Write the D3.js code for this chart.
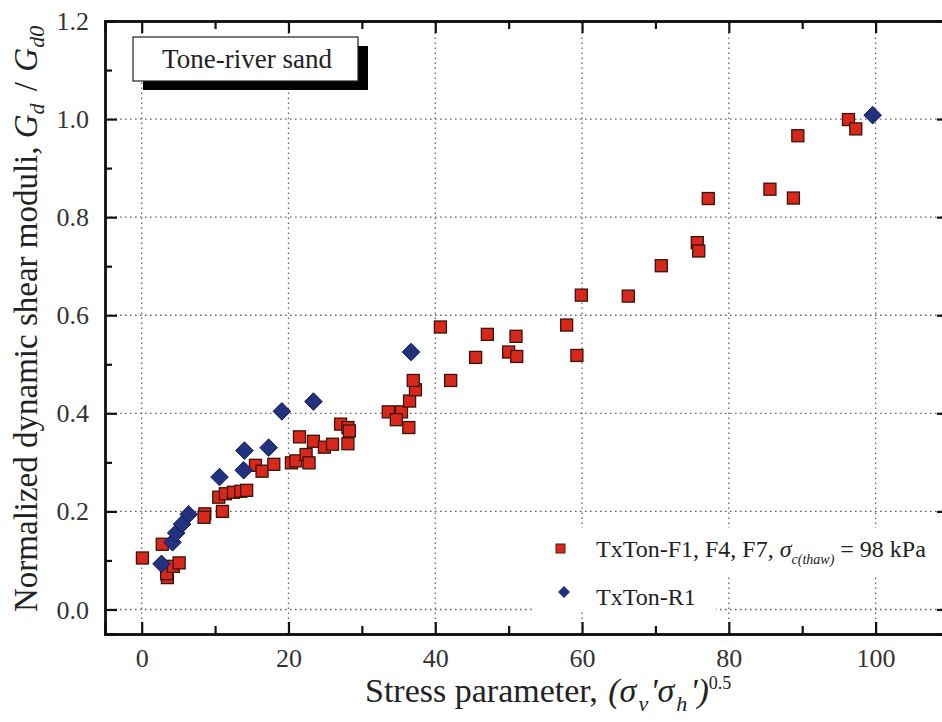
<!DOCTYPE html>
<html><head><meta charset="utf-8">
<script src="https://cdn.jsdelivr.net/npm/d3@7"></script>
<style>
body{margin:0;background:#fff;}
svg{display:block;}
text{font-family:"Liberation Serif","Times New Roman",serif;}
</style></head>
<body><svg id="c" width="942" height="722"></svg>
<script>
// ---- data ----
const redX = [0.1,2.8,3.5,3.4,4.3,5.1,8.6,8.5,10.5,11.0,11.4,12.5,13.5,14.3,15.5,16.4,18.0,20.4,21.0,21.5,22.4,22.8,23.4,24.9,26.0,27.1,28.1,28.3,28.1,33.6,35.4,34.7,36.4,36.5,37.3,37.0,40.7,42.1,45.5,47.1,50.0,51.0,51.1,57.9,59.3,59.9,66.3,70.8,75.7,75.9,77.2,85.6,88.8,89.4,96.3,97.3];
const redY = [0.105,0.133,0.065,0.073,0.088,0.095,0.195,0.188,0.229,0.200,0.236,0.239,0.241,0.243,0.294,0.282,0.296,0.299,0.303,0.352,0.316,0.299,0.343,0.331,0.337,0.378,0.371,0.364,0.338,0.403,0.403,0.387,0.371,0.425,0.448,0.467,0.576,0.467,0.514,0.561,0.525,0.557,0.516,0.580,0.518,0.641,0.639,0.701,0.748,0.731,0.838,0.857,0.839,0.966,0.999,0.980];
const blueX = [2.7,4.2,4.7,5.5,6.4,10.6,13.9,14.0,17.3,19.1,23.4,36.7,99.6];
const blueY = [0.093,0.137,0.156,0.174,0.194,0.270,0.284,0.324,0.330,0.404,0.424,0.525,1.008];
const xMajor = [0,20,40,60,80,100];
const xMinor = [10,30,50,70,90];
const yMajor = [0.0,0.2,0.4,0.6,0.8,1.0,1.2];
const yMinor = [0.1,0.3,0.5,0.7,0.9,1.1];
const seriesNames = ["TxTon-F1, F4, F7, ", "TxTon-R1"];
const boxLabel = "Tone-river sand";

// ---- layout ----
const L = 105, R = 949, T = 21, B = 634;
const x = d3.scaleLinear().domain([-5,110]).range([L,R]);
const y = d3.scaleLinear().domain([-0.05,1.2]).range([B,T]);
const svg = d3.select("#c");

// grid
const grid = svg.append("g").attr("stroke","#666").attr("stroke-width",1.3).attr("stroke-dasharray","1.6,3.4");
grid.selectAll("line.gx").data(xMajor).join("line")
  .attr("x1",d=>x(d)).attr("x2",d=>x(d)).attr("y1",B).attr("y2",T);
grid.selectAll("line.gy").data(yMajor.filter(v=>v<1.2)).join("line")
  .attr("y1",d=>y(d)).attr("y2",d=>y(d)).attr("x1",L).attr("x2",R);

// axes (inward ticks)
function ax(gen, vals, size, tx, ty, labels){
  const g = svg.append("g").attr("transform",`translate(${tx},${ty})`)
    .call(gen.tickValues(vals).tickSize(size).tickPadding(0).tickFormat(labels?null:""));
  g.select(".domain").attr("stroke","#111").attr("stroke-width",2.4);
  g.selectAll(".tick line").attr("stroke","#111").attr("stroke-width",2.2);
  return g;
}
const bx = ax(d3.axisBottom(x), xMajor, -12, 0, B, true);
ax(d3.axisBottom(x), xMinor, -8, 0, B, false);
ax(d3.axisTop(x), xMajor, -12, 0, T, false);
ax(d3.axisTop(x), xMinor, -8, 0, T, false);
const ly = ax(d3.axisLeft(y), yMajor, -12, L, 0, true);
ax(d3.axisLeft(y), yMinor, -7, L, 0, false);
ax(d3.axisRight(y), yMajor, -12, R, 0, false);
ax(d3.axisRight(y), yMinor, -7, R, 0, false);

bx.selectAll(".tick text").attr("y",33).attr("dy",0).attr("font-size",26).attr("fill","#333")
  .attr("font-family","Liberation Serif");
bx.selectAll(".tick text").text(d=>d3.format("d")(d));
ly.selectAll(".tick text").attr("x",-16).attr("dy","0.33em").attr("font-size",26).attr("fill","#333")
  .attr("font-family","Liberation Serif").text(d=>d3.format(".1f")(d));

// box label with shadow
svg.append("rect").attr("x",143).attr("y",46).attr("width",225).attr("height",44).attr("fill","#000");
svg.append("rect").attr("x",133).attr("y",37).attr("width",225).attr("height",44).attr("fill","#fff")
  .attr("stroke","#222").attr("stroke-width",1.2);
svg.append("text").attr("x",247).attr("y",68).attr("text-anchor","middle").attr("font-size",27)
  .attr("fill","#222").text(boxLabel);

// markers
const sq = 12;
svg.append("g").selectAll("rect").data(redX.map((v,i)=>[v,redY[i]])).join("rect")
  .attr("x",d=>x(d[0])-sq/2).attr("y",d=>y(d[1])-sq/2).attr("width",sq).attr("height",sq)
  .attr("fill","#d8281c").attr("stroke","#3a1208").attr("stroke-width",1.3);
const dd = 8.8;
const diamond = (cx,cy,r)=>`M${cx},${cy-r}L${cx+r},${cy}L${cx},${cy+r}L${cx-r},${cy}Z`;
svg.append("g").selectAll("path").data(blueX.map((v,i)=>[v,blueY[i]])).join("path")
  .attr("d",d=>diamond(x(d[0]),y(d[1]),dd))
  .attr("fill","#22327f").attr("stroke","#121c52").attr("stroke-width",1);

// legend
svg.append("rect").attr("x",532).attr("y",528).attr("width",410).attr("height",48).attr("fill","#fff");
svg.append("rect").attr("x",532).attr("y",576).attr("width",184).attr("height",36).attr("fill","#fff");
svg.append("rect").attr("x",556).attr("y",544).attr("width",9).attr("height",9)
  .attr("fill","#d8281c").attr("stroke","#5a1a10").attr("stroke-width",1);
svg.append("path").attr("d",diamond(564,592,6)).attr("fill","#22327f");
const lt1 = svg.append("text").attr("x",596).attr("y",557).attr("font-size",24).attr("fill","#222");
lt1.append("tspan").text(seriesNames[0]);
lt1.append("tspan").attr("font-style","italic").text("σ");
lt1.append("tspan").attr("font-style","italic").attr("font-size",14).attr("dy",7).text("c(thaw)");
lt1.append("tspan").attr("dy",-7).text(" = 98 kPa");
svg.append("text").attr("x",596).attr("y",605).attr("font-size",24).attr("fill","#222").text(seriesNames[1]);

// x axis title
const xt = svg.append("text").attr("x",365).attr("y",702).attr("font-size",34).attr("fill","#222");
xt.append("tspan").text("Stress parameter, ");
xt.append("tspan").attr("font-style","italic").attr("dx",2).text("(σ");
xt.append("tspan").attr("font-style","italic").attr("font-size",22).attr("dy",9).attr("dx",2).text("v");
xt.append("tspan").attr("font-style","italic").attr("dy",-9).attr("dx",2).text("'σ");
xt.append("tspan").attr("font-style","italic").attr("font-size",22).attr("dy",9).attr("dx",2).text("h");
xt.append("tspan").attr("font-style","italic").attr("dy",-9).attr("dx",3).text("')");
xt.append("tspan").attr("font-size",18).attr("dy",-13).attr("dx",0).text("0.5");

// y axis title
const yt = svg.append("text").attr("transform","translate(37,612) rotate(-90)").attr("font-size",33).attr("fill","#222");
yt.append("tspan").text("Normalized dynamic shear moduli, ");
yt.append("tspan").attr("font-style","italic").text("G");
yt.append("tspan").attr("font-style","italic").attr("font-size",22).attr("dy",7).text("d");
yt.append("tspan").attr("dy",-7).attr("dx",4).text(" / ");
yt.append("tspan").attr("font-style","italic").attr("dx",2).text("G");
yt.append("tspan").attr("font-style","italic").attr("font-size",22).attr("dy",7).text("d0");
</script></body></html>
